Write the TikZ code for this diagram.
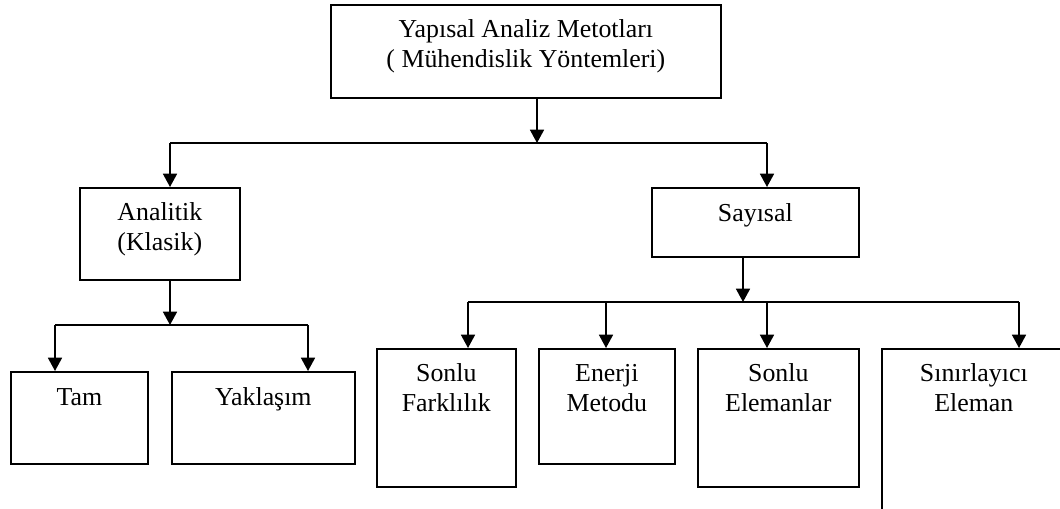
\documentclass[tikz,border=0pt]{standalone}
\usepackage{fontspec}
\setmainfont{Liberation Serif}
\usetikzlibrary{arrows.meta}
\begin{document}
\begin{tikzpicture}[x=0.75pt,y=-0.75pt,
  box/.style={draw, line width=1.25pt, anchor=north west, inner sep=0pt},
  lbl/.style={font=\fontsize{19.4}{22.9}\selectfont, align=center, anchor=base, inner sep=0pt},
  link/.style={line width=1.25pt},
  arr/.style={line width=1.25pt, -{Triangle[width=10.5pt,length=10pt]}}]
\useasboundingbox (0,0) rectangle (1060,508);
\clip (0,0) rectangle (1060,508);

% boxes
\node[box, minimum width=292.5pt, minimum height=69.75pt] (top) at (330,4) {};
\node[box, minimum width=120pt, minimum height=69pt] (analitik) at (79,187) {};
\node[box, minimum width=155.25pt, minimum height=51.75pt] (sayisal) at (651,187) {};
\node[box, minimum width=102.75pt, minimum height=69pt] (tam) at (10,371) {};
\node[box, minimum width=137.25pt, minimum height=69pt] (yaklasim) at (171,371) {};
\node[box, minimum width=104.25pt, minimum height=103.5pt] (farklilik) at (376,348) {};
\node[box, minimum width=102pt, minimum height=86.25pt] (enerji) at (538,348) {};
\node[box, minimum width=120.75pt, minimum height=103.5pt] (elemanlar) at (697,348) {};
\node[box, minimum width=138pt, minimum height=131.25pt] (sinir) at (881,348) {};

% labels; the base anchor sits on the last line of each label
\node[lbl] (tTop) at ([yshift=-47.65pt]top.north) {Yapısal Analiz Metotları\\( Mühendislik Yöntemleri)};
\node[lbl] (tAnalitik) at ([yshift=-47.65pt]analitik.north) {Analitik\\(Klasik)};
\node[lbl] (tSayisal) at ([yshift=-25.5pt]sayisal.north) {Sayısal};
\node[lbl] (tTam) at ([yshift=-25.5pt]tam.north) {Tam};
\node[lbl] (tYaklasim) at ([yshift=-25.5pt]yaklasim.north) {Yaklaşım};
\node[lbl] (tFarklilik) at ([yshift=-47.65pt]farklilik.north) {Sonlu\\Farklılık};
\node[lbl] (tEnerji) at ([yshift=-47.65pt]enerji.north) {Enerji\\Metodu};
\node[lbl] (tElemanlar) at ([yshift=-47.65pt]elemanlar.north) {Sonlu\\Elemanlar};
\node[lbl] (tSinir) at ([yshift=-47.65pt]sinir.north) {Sınırlayıcı\\Eleman};

% bus coordinates
\coordinate (s0) at (537,143);
\coordinate (sL) at (170,143);
\coordinate (sR) at (767,143);
\coordinate (a0) at (170,325);
\coordinate (aL) at (55,325);
\coordinate (aR) at (308,325);
\coordinate (n0) at (743,302);
\coordinate (n1) at (468,302);
\coordinate (n2) at (606,302);
\coordinate (n3) at (767,302);
\coordinate (n4) at (1019,302);

% first level
\draw[arr] (top.south -| s0) -- (s0);
\draw[link] (sL) -- (sR);
\draw[arr] (sL) -- (sL |- analitik.north);
\draw[arr] (sR) -- (sR |- sayisal.north);

% analytic branch
\draw[arr] (analitik.south -| a0) -- (a0);
\draw[link] (aL) -- (aR);
\draw[arr] (aL) -- (aL |- tam.north);
\draw[arr] (aR) -- (aR |- yaklasim.north);

% numerical branch
\draw[arr] (sayisal.south -| n0) -- (n0);
\draw[link] (n1) -- (n4);
\draw[arr] (n1) -- (n1 |- farklilik.north);
\draw[arr] (n2) -- (n2 |- enerji.north);
\draw[arr] (n3) -- (n3 |- elemanlar.north);
\draw[arr] (n4) -- (n4 |- sinir.north);
\end{tikzpicture}
\end{document}
